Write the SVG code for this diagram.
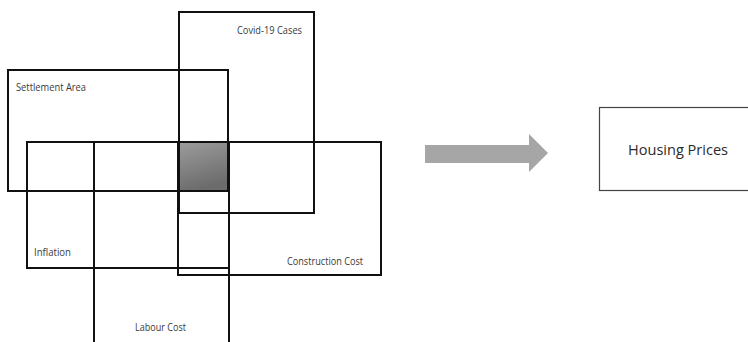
<svg xmlns="http://www.w3.org/2000/svg" width="748" height="342" viewBox="0 0 748 342">
<style>
.box{fill:none;stroke:#111;stroke-width:2}
.lbl{font-family:"Open Sans","Liberation Sans",Arial,sans-serif;font-size:10px;fill:#3a3a3a}
.big{font-family:"Open Sans","Liberation Sans",Arial,sans-serif;font-size:14px;fill:#2a2a2a}
</style>
<defs>
<linearGradient id="g" x1="0" y1="0" x2="0.3" y2="1">
<stop offset="0" stop-color="#9c9c9c"/>
<stop offset="1" stop-color="#6c6c6c"/>
</linearGradient>
</defs>
<rect width="748" height="342" fill="#fff"/>
<g id="overlap"><rect x="179" y="142" width="50" height="49" fill="url(#g)"/></g>
<g id="covid"><rect class="box" x="179" y="12" width="135" height="201"/><text class="lbl" x="237" y="33.5" textLength="65" lengthAdjust="spacingAndGlyphs">Covid-19 Cases</text></g>
<g id="settlement"><rect class="box" x="8" y="70" width="220" height="121"/><text class="lbl" x="16" y="90.5" textLength="70" lengthAdjust="spacingAndGlyphs">Settlement Area</text></g>
<g id="inflation"><rect class="box" x="27" y="142" width="202" height="126"/><text class="lbl" x="34" y="255.5" textLength="37" lengthAdjust="spacingAndGlyphs">Inflation</text></g>
<g id="labour"><rect class="box" x="94" y="142" width="135" height="215"/><text class="lbl" x="135" y="330.5" textLength="51" lengthAdjust="spacingAndGlyphs">Labour Cost</text></g>
<g id="construction"><rect class="box" x="178" y="142" width="203" height="133"/><text class="lbl" x="287" y="264.5" textLength="76" lengthAdjust="spacingAndGlyphs">Construction Cost</text></g>
<g id="connectors"><polygon points="425,145 529,145 529,134 548,153 529,172 529,163 425,163" fill="#a6a6a6"/></g>
<g id="housing"><rect x="599.5" y="107.5" width="160" height="83" fill="none" stroke="#444" stroke-width="1.2"/><text class="big" x="628" y="155" textLength="100" lengthAdjust="spacingAndGlyphs">Housing Prices</text></g>
</svg>
